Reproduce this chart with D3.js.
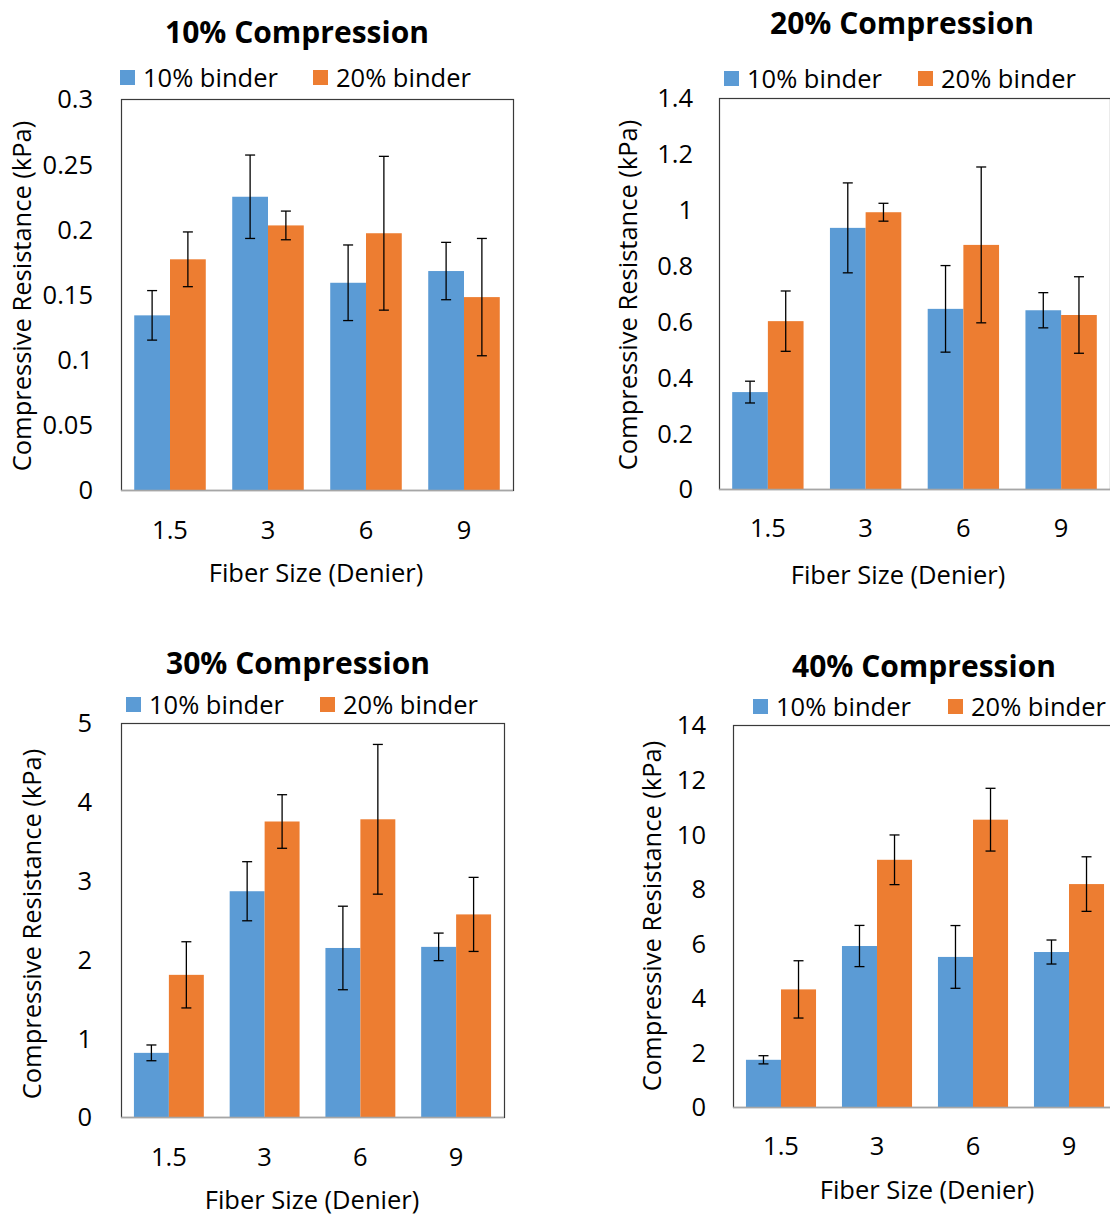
<!DOCTYPE html>
<html>
<head>
<meta charset="utf-8">
<script src="https://cdn.jsdelivr.net/npm/d3@7"></script>
<style>
  html, body { margin: 0; padding: 0; background: #fff; }
  svg { display: block; }
  text { font-family: "Open Sans", "DejaVu Sans", sans-serif; fill: #000; }
</style>
</head>
<body>
<svg id="chart" width="1110" height="1215"></svg>
<script>
// ---------------- DATA ----------------
const categories = ["1.5", "3", "6", "9"];
const seriesNames = ["10% binder", "20% binder"];
const panelTitles = ["10% Compression", "20% Compression", "30% Compression", "40% Compression"];
const xAxisTitle = "Fiber Size (Denier)";
const yAxisTitle = "Compressive Resistance (kPa)";

// 10% compression
const c10_binder10 = [0.134, 0.225, 0.159, 0.168];
const c10_binder10_err = [0.019, 0.032, 0.029, 0.022];
const c10_binder20 = [0.177, 0.203, 0.197, 0.148];
const c10_binder20_err = [0.021, 0.011, 0.059, 0.045];
const c10_ticks = [0, 0.05, 0.1, 0.15, 0.2, 0.25, 0.3];

// 20% compression
const c20_binder10 = [0.347, 0.935, 0.645, 0.640];
const c20_binder10_err = [0.039, 0.161, 0.155, 0.063];
const c20_binder20 = [0.601, 0.991, 0.874, 0.623];
const c20_binder20_err = [0.108, 0.032, 0.279, 0.137];
const c20_ticks = [0, 0.2, 0.4, 0.6, 0.8, 1, 1.2, 1.4];

// 30% compression
const c30_binder10 = [0.814, 2.865, 2.145, 2.159];
const c30_binder10_err = [0.10, 0.375, 0.53, 0.175];
const c30_binder20 = [1.804, 3.75, 3.778, 2.571];
const c30_binder20_err = [0.42, 0.34, 0.95, 0.47];
const c30_ticks = [0, 1, 2, 3, 4, 5];

// 40% compression
const c40_binder10 = [1.73, 5.90, 5.50, 5.68];
const c40_binder10_err = [0.15, 0.755, 1.15, 0.44];
const c40_binder20 = [4.31, 9.06, 10.53, 8.17];
const c40_binder20_err = [1.05, 0.91, 1.15, 1.0];
const c40_ticks = [0, 2, 4, 6, 8, 10, 12, 14];

const colors = ["#5B9BD5", "#ED7D31"];

// ---------------- LAYOUT ----------------
const panels = [
  { title: panelTitles[0], vals: [c10_binder10, c10_binder20], errs: [c10_binder10_err, c10_binder20_err], ticks: c10_ticks,
    frame: { x: 121, y: 99, w: 392, h: 391 }, titlePos: [297, 32], legendY: 78, legendX: [120, 313],
    yTickRight: 93, xLabelY: 530, xTitle: [316, 573], yTitle: [22, 296] },
  { title: panelTitles[1], vals: [c20_binder10, c20_binder20], errs: [c20_binder10_err, c20_binder20_err], ticks: c20_ticks,
    frame: { x: 719, y: 98, w: 391, h: 391 }, titlePos: [902, 23], legendY: 79, legendX: [724, 918],
    yTickRight: 693, xLabelY: 528, xTitle: [898, 575], yTitle: [628, 295] },
  { title: panelTitles[2], vals: [c30_binder10, c30_binder20], errs: [c30_binder10_err, c30_binder20_err], ticks: c30_ticks,
    frame: { x: 121, y: 723, w: 383, h: 394 }, titlePos: [298, 663], legendY: 705, legendX: [126, 320],
    yTickRight: 92, xLabelY: 1157, xTitle: [312, 1200], yTitle: [32, 924] },
  { title: panelTitles[3], vals: [c40_binder10, c40_binder20], errs: [c40_binder10_err, c40_binder20_err], ticks: c40_ticks,
    frame: { x: 733, y: 725, w: 384, h: 382 }, titlePos: [924, 666], legendY: 707, legendX: [753, 948],
    yTickRight: 706, xLabelY: 1146, xTitle: [927, 1190], yTitle: [652, 916] }
];

const FS = 25.5;      // body font size
const TFS = 30;       // panel title font size

const svg = d3.select("#chart");
const fmt = d3.format("~f");

panels.forEach(p => {
  const g = svg.append("g");
  const f = p.frame;
  const yMax = p.ticks[p.ticks.length - 1];

  const x0 = d3.scaleBand().domain(categories).range([f.x, f.x + f.w]).paddingInner(0.27).paddingOuter(0.135);
  const x1 = d3.scaleBand().domain([0, 1]).range([0, x0.bandwidth()]);
  const y = d3.scaleLinear().domain([0, yMax]).range([f.y + f.h, f.y]);

  // plot frame
  g.append("rect").attr("x", f.x + 0.5).attr("y", f.y + 0.5).attr("width", f.w).attr("height", f.h)
    .attr("fill", "none").attr("stroke", "#3a3a3a").attr("stroke-width", 1.2);

  // bars
  [0, 1].forEach(s => {
    g.append("g").selectAll("rect").data(categories).join("rect")
      .attr("x", c => x0(c) + x1(s))
      .attr("y", (c, i) => y(p.vals[s][i]))
      .attr("width", x1.bandwidth())
      .attr("height", (c, i) => y(0) - y(p.vals[s][i]))
      .attr("fill", colors[s]);
  });

  // bottom axis line
  g.append("line").attr("x1", f.x).attr("x2", f.x + f.w).attr("y1", y(0) + 0.5).attr("y2", y(0) + 0.5)
    .attr("stroke", "#a6a6a6").attr("stroke-width", 1.5);

  // error bars
  [0, 1].forEach(s => {
    const eg = g.append("g").attr("stroke", "#000").attr("stroke-width", 1.3);
    categories.forEach((c, i) => {
      const cx = x0(c) + x1(s) + x1.bandwidth() / 2;
      const hi = y(p.vals[s][i] + p.errs[s][i]);
      const lo = y(p.vals[s][i] - p.errs[s][i]);
      eg.append("line").attr("x1", cx).attr("x2", cx).attr("y1", hi).attr("y2", lo);
      eg.append("line").attr("x1", cx - 5).attr("x2", cx + 5).attr("y1", hi).attr("y2", hi);
      eg.append("line").attr("x1", cx - 5).attr("x2", cx + 5).attr("y1", lo).attr("y2", lo);
    });
  });

  // y axis (labels only)
  const yAxis = d3.axisLeft(y).tickValues(p.ticks).tickFormat(fmt).tickSize(0).tickPadding(0);
  const ya = g.append("g").attr("transform", `translate(${p.yTickRight},0)`).call(yAxis);
  ya.select(".domain").remove();
  ya.selectAll("text").attr("font-size", FS).attr("font-family", "'Open Sans', sans-serif").attr("fill", "#000").attr("dy", "0.35em");

  // x axis labels
  const xAxis = d3.axisBottom(x0).tickSize(0).tickPadding(0);
  const xa = g.append("g").attr("transform", `translate(0,${p.xLabelY})`).call(xAxis);
  xa.select(".domain").remove();
  xa.selectAll("text").attr("font-size", FS).attr("font-family", "'Open Sans', sans-serif").attr("fill", "#000").attr("dy", "0.35em");

  // titles
  g.append("text").attr("x", p.titlePos[0]).attr("y", p.titlePos[1]).attr("dy", "0.35em")
    .attr("text-anchor", "middle").attr("font-size", TFS).attr("font-weight", "bold").text(p.title);
  g.append("text").attr("x", p.xTitle[0]).attr("y", p.xTitle[1]).attr("dy", "0.35em")
    .attr("text-anchor", "middle").attr("font-size", FS).text(xAxisTitle);
  g.append("text").attr("transform", `translate(${p.yTitle[0]},${p.yTitle[1]}) rotate(-90)`).attr("dy", "0.35em")
    .attr("text-anchor", "middle").attr("font-size", FS).text(yAxisTitle);

  // legend
  seriesNames.forEach((name, s) => {
    const lx = p.legendX[s];
    g.append("rect").attr("x", lx).attr("y", p.legendY - 8).attr("width", 15).attr("height", 15).attr("fill", colors[s]);
    g.append("text").attr("x", lx + 23).attr("y", p.legendY).attr("dy", "0.35em").attr("font-size", FS).text(name);
  });
});
</script>
</body>
</html>
